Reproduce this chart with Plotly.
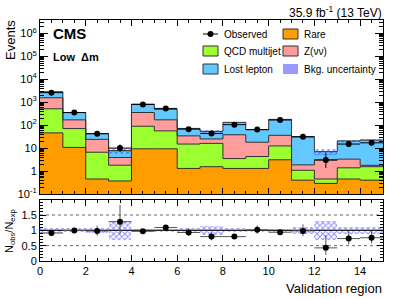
import plotly.graph_objects as go

# ---------------- data ----------------
bins = [0.5 + i for i in range(15)]
bin_edges = list(range(16))
rare = [46, 10.7, 0.45, 0.37, 9.3, 9.3, 1.3, 1.55, 1.3, 1.3, 3.1, 0.40, 0.29, 0.45, 0.40]
qcd = [469, 60, 6.15, 1.43, 80, 47, 13.7, 14.5, 2.2, 3.0, 9.3, 0.68, 0.16, 0.93, 1.15]
znunu = [1045, 99, 17.4, 2.1, 266, 114, 19, 9, 34.5, 13.7, 23.6, 0.78, 2.65, 1.92, 0.23]
lostlep = [1290, 185, 19, 3.9, 465, 320, 38, 29, 94, 45, 142, 29.7, 3.9, 17.2, 20.6]
bkg_rel_unc = [0.08, 0.07, 0.08, 0.3, 0.04, 0.05, 0.08, 0.15, 0.07, 0.06, 0.05, 0.12, 0.3, 0.12, 0.12]
observed = [2600, 352, 42, 10, 795, 535, 67, 43, 105, 64, 167, 31, 3, 15, 17]
obs_err_up = [51.5, 19.8, 7.5, 4.27, 29, 24, 9.2, 7.6, 11.3, 9.0, 13.9, 6.6, 2.92, 4.96, 5.2]
obs_err_dn = [51, 18.8, 6.5, 3.10, 28, 23, 8.2, 6.5, 10.2, 8.0, 12.9, 5.5, 1.63, 3.83, 4.1]

main_ytickvals = [0.1, 1, 10, 100, 1e3, 1e4, 1e5, 1e6]
main_yticktext = ["10<sup>-1</sup>", "1", "10", "10<sup>2</sup>", "10<sup>3</sup>",
                  "10<sup>4</sup>", "10<sup>5</sup>", "10<sup>6</sup>"]
ratio_tickvals = [0, 0.5, 1, 1.5]
ratio_ticktext = ["0", "0.5", "1", "1.5"]
x_tickvals = [0, 2, 4, 6, 8, 10, 12, 14]

# ---------------- style ----------------
C_RARE = "#ff9c00"
C_QCD = "#9cff30"
C_Z = "#ff9c9c"
C_LL = "#63c8ff"
C_HATCH = "#2020ff"
FONT = "Liberation Sans"
W, H = 399, 299
ML, MR, MT, MB = 40, 16, 20, 38

def px(xp):
    return (xp - ML) / (W - ML - MR)

def py(yp):
    return (H - MB - yp) / (H - MT - MB)

# cumulative stacks
s1 = rare
s2 = [a + b for a, b in zip(s1, qcd)]
s3 = [a + b for a, b in zip(s2, znunu)]
s4 = [a + b for a, b in zip(s3, lostlep)]
total = s4

fig = go.Figure()

fig.add_trace(go.Bar(x=bins, y=rare, width=1.0, marker=dict(color=C_RARE, line=dict(width=0)),
                     showlegend=False, xaxis="x", yaxis="y"))
for vals, base, col in [(qcd, s1, C_QCD), (znunu, s2, C_Z), (lostlep, s3, C_LL)]:
    fig.add_trace(go.Bar(x=bins, y=vals, base=base, width=1.0,
                         marker=dict(color=col, line=dict(width=0)),
                         showlegend=False, xaxis="x", yaxis="y"))

# step outlines
for cum in [s1, s2, s3, s4]:
    fig.add_trace(go.Scatter(x=bin_edges, y=cum + [cum[-1]], mode="lines",
                             line=dict(color="#333333", width=1, shape="hv"),
                             showlegend=False, hoverinfo="skip", xaxis="x", yaxis="y"))

hatch = dict(shape="x", fgcolor=C_HATCH, bgcolor="rgba(0,0,0,0)", size=4, solidity=0.45,
             fillmode="overlay")

# bkg uncertainty hatched (main)
fig.add_trace(go.Bar(x=bins, y=[2 * t * u for t, u in zip(total, bkg_rel_unc)],
                     base=[t * (1 - u) for t, u in zip(total, bkg_rel_unc)], width=1.0,
                     marker=dict(color="rgba(0,0,0,0)", line=dict(width=0), pattern=hatch),
                     showlegend=False, xaxis="x", yaxis="y"))

# observed (main)
fig.add_trace(go.Scatter(x=bins, y=observed, mode="markers",
                         marker=dict(color="black", size=6),
                         error_y=dict(type="data", symmetric=False, array=obs_err_up,
                                      arrayminus=obs_err_dn, color="black", thickness=1, width=0),
                         error_x=dict(type="constant", value=0.5, color="black", thickness=1, width=0),
                         showlegend=False, xaxis="x", yaxis="y"))

# ratio panel
ratio = [o / t for o, t in zip(observed, total)]
ratio_up = [e / t for e, t in zip(obs_err_up, total)]
ratio_dn = [e / t for e, t in zip(obs_err_dn, total)]

fig.add_trace(go.Bar(x=bins, y=[2 * u for u in bkg_rel_unc], base=[1 - u for u in bkg_rel_unc],
                     width=1.0,
                     marker=dict(color="rgba(0,0,0,0)", line=dict(width=0), pattern=hatch),
                     showlegend=False, xaxis="x2", yaxis="y2"))

fig.add_trace(go.Scatter(x=[0, 15], y=[1, 1], mode="lines", line=dict(color="#222222", width=1.2),
                         showlegend=False, hoverinfo="skip", xaxis="x2", yaxis="y2"))
for lvl in [0.5, 1.5]:
    fig.add_trace(go.Scatter(x=[0, 15], y=[lvl, lvl], mode="lines",
                             line=dict(color="#666666", width=1, dash="dot"),
                             showlegend=False, hoverinfo="skip", xaxis="x2", yaxis="y2"))

fig.add_trace(go.Scatter(x=bins, y=ratio, mode="markers",
                         marker=dict(color="black", size=6),
                         error_y=dict(type="data", symmetric=False, array=ratio_up,
                                      arrayminus=ratio_dn, color="#555555", thickness=1, width=0),
                         error_x=dict(type="constant", value=0.5, color="#555555", thickness=1, width=0),
                         showlegend=False, xaxis="x2", yaxis="y2"))

axis_common = dict(showline=True, linecolor="black", linewidth=1, mirror="ticks",
                   ticks="inside", tickcolor="black", showgrid=False, zeroline=False,
                   automargin=False,
                   tickfont=dict(family=FONT, size=11, color="black"))

fig.update_layout(
    width=W, height=H,
    margin=dict(l=ML, r=MR, t=MT, b=MB, autoexpand=False),
    paper_bgcolor="white", plot_bgcolor="white",
    barmode="overlay", bargap=0,
    showlegend=False,
    font=dict(family=FONT, color="black"),
    xaxis=dict(domain=[0, 1], anchor="y", range=[0, 15], tickvals=x_tickvals, showticklabels=False,
               ticklen=6, minor=dict(ticks="inside", dtick=0.5, ticklen=3, tickcolor="black"),
               **axis_common),
    yaxis=dict(domain=[py(194), 1], anchor="x", type="log", range=[-1, 6.58],
               tickvals=main_ytickvals, ticktext=main_yticktext, ticklen=8,
               minor=dict(ticks="inside", ticklen=4, tickcolor="black", dtick="D1"),
               **axis_common),
    xaxis2=dict(domain=[0, 1], anchor="y2", range=[0, 15], tickvals=x_tickvals,
                ticklen=6, minor=dict(ticks="inside", dtick=0.5, ticklen=3, tickcolor="black"),
                **axis_common),
    yaxis2=dict(domain=[0, py(200)], anchor="x2", range=[0, 1.99],
                tickvals=ratio_tickvals, ticktext=ratio_ticktext, ticklen=6,
                minor=dict(ticks="inside", dtick=0.1, ticklen=3, tickcolor="black"),
                **axis_common),
)

ann = []
ann.append(dict(text="<b>CMS</b>", x=px(51), y=py(33), xref="paper", yref="paper",
                xanchor="left", yanchor="middle", showarrow=False,
                font=dict(family=FONT, size=15, color="black")))
ann.append(dict(text="<b>Low  \u0394m</b>", x=px(51), y=py(57), xref="paper", yref="paper",
                xanchor="left", yanchor="middle", showarrow=False,
                font=dict(family=FONT, size=11, color="black")))
ann.append(dict(text="35.9 fb<sup>-1</sup> (13 TeV)", x=px(384), y=py(12), xref="paper", yref="paper",
                xanchor="right", yanchor="middle", showarrow=False,
                font=dict(family=FONT, size=12, color="black")))
ann.append(dict(text="Events", x=px(10), y=py(40), xref="paper", yref="paper",
                xanchor="center", yanchor="middle", textangle=-90, showarrow=False,
                font=dict(family=FONT, size=13, color="black")))
ann.append(dict(text="N<sub>obs</sub>/N<sub>exp</sub>", x=px(10), y=py(231), xref="paper", yref="paper",
                xanchor="center", yanchor="middle", textangle=-90, showarrow=False,
                font=dict(family=FONT, size=11, color="black")))
ann.append(dict(text="Validation region", x=px(384), y=py(288), xref="paper", yref="paper",
                xanchor="right", yanchor="middle", showarrow=False,
                font=dict(family=FONT, size=13, color="black")))

# legend (manual)
leg_items = [
    ("Observed", 222, 34, "obs"), ("QCD multijet", 222, 51, C_QCD), ("Lost lepton", 222, 69, C_LL),
    ("Rare", 302, 34, C_RARE), ("Z(\u03bd\u03bd)", 302, 51, C_Z), ("Bkg. uncertainty", 302, 69, "hatch"),
]
shapes = []
for label, tx, ty, kind in leg_items:
    ann.append(dict(text=label, x=px(tx), y=py(ty), xref="paper", yref="paper",
                    xanchor="left", yanchor="middle", showarrow=False,
                    font=dict(family=FONT, size=10, color="black")))
    bx0, bx1 = tx - 19, tx - 4
    if kind == "obs":
        shapes.append(dict(type="line", xref="paper", yref="paper", x0=px(bx0), x1=px(bx1),
                           y0=py(ty), y1=py(ty), line=dict(color="black", width=1)))
        shapes.append(dict(type="circle", xref="paper", yref="paper", x0=px(tx - 14.5), x1=px(tx - 8.5),
                           y0=py(ty + 3), y1=py(ty - 3), fillcolor="black", line=dict(color="black", width=0)))
    elif kind == "hatch":
        shapes.append(dict(type="rect", xref="paper", yref="paper", x0=px(bx0), x1=px(bx1),
                           y0=py(ty + 5), y1=py(ty - 5), fillcolor="rgba(70,70,255,0.55)",
                           line=dict(width=0)))
    else:
        shapes.append(dict(type="rect", xref="paper", yref="paper", x0=px(bx0), x1=px(bx1),
                           y0=py(ty + 5), y1=py(ty - 5), fillcolor=kind,
                           line=dict(color="#333333", width=1)))

fig.update_layout(annotations=ann, shapes=shapes)
fig.write_html("out.html", config={"displayModeBar": False},
               post_script="document.body.style.margin='0px';document.body.style.overflow='hidden';")
